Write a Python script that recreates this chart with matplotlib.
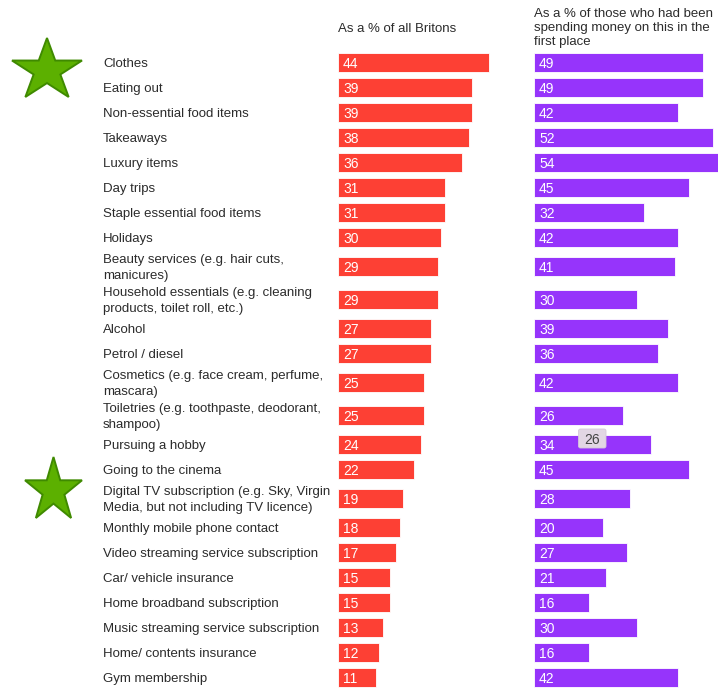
import numpy as np
import matplotlib.pyplot as plt
from matplotlib.patches import FancyBboxPatch, Polygon

plt.rcParams['font.family'] = ['Liberation Sans', 'DejaVu Sans']

categories = [
    "Clothes",
    "Eating out",
    "Non-essential food items",
    "Takeaways",
    "Luxury items",
    "Day trips",
    "Staple essential food items",
    "Holidays",
    "Beauty services (e.g. hair cuts,\nmanicures)",
    "Household essentials (e.g. cleaning\nproducts, toilet roll, etc.)",
    "Alcohol",
    "Petrol / diesel",
    "Cosmetics (e.g. face cream, perfume,\nmascara)",
    "Toiletries (e.g. toothpaste, deodorant,\nshampoo)",
    "Pursuing a hobby",
    "Going to the cinema",
    "Digital TV subscription (e.g. Sky, Virgin\nMedia, but not including TV licence)",
    "Monthly mobile phone contact",
    "Video streaming service subscription",
    "Car/ vehicle insurance",
    "Home broadband subscription",
    "Music streaming service subscription",
    "Home/ contents insurance",
    "Gym membership",
]
all_britons = [44, 39, 39, 38, 36, 31, 31, 30, 29, 29, 27, 27, 25, 25, 24, 22,
               19, 18, 17, 15, 15, 13, 12, 11]
spenders = [49, 49, 42, 52, 54, 45, 32, 42, 41, 30, 39, 36, 42, 26, 34, 45,
            28, 20, 27, 21, 16, 30, 16, 42]

header_left = "As a % of all Britons"
header_right = "As a % of those who had been\nspending money on this in the\nfirst place"
tooltip_value = "26"

RED = "#FD4034"
PURPLE = "#9634FB"
TEXT = "#2b2b2b"

W, H = 718, 688
fig = plt.figure(figsize=(W / 100, H / 100), dpi=100)

# row centres in pixel units: two-line labels get a taller row
centres = []
y = 62.5
prev_h = None
for lab in categories:
    h = 33 if "\n" in lab else 25
    if prev_h is not None:
        y += (prev_h + h) / 2
    centres.append(y)
    prev_h = h

px_per_unit = 3.44


def bar_axes(left_px, right_px):
    ax = fig.add_axes([left_px / W, 0, (right_px - left_px) / W, 1])
    ax.set_xlim(0, (right_px - left_px) / px_per_unit)
    ax.set_ylim(H, 0)
    ax.axis("off")
    return ax


ax_red = bar_axes(338, 530)
ax_pur = bar_axes(534, 718)

for ax, vals, col in [(ax_red, all_britons, RED), (ax_pur, spenders, PURPLE)]:
    ax.barh(centres, vals, height=19, color=col, edgecolor="white", linewidth=0.6)
    for yc, v in zip(centres, vals):
        ax.annotate(str(v), (0, yc), xytext=(5, -1.5), textcoords="offset pixels",
                    va="center", ha="left", color="white", fontsize=10)

# overlay for labels, headers, stars and the hover box
ax = fig.add_axes([0, 0, 1, 1], zorder=5)
ax.set_xlim(0, W)
ax.set_ylim(H, 0)
ax.axis("off")
ax.patch.set_visible(False)

for lab, yc in zip(categories, centres):
    ax.text(103, yc + 1.5, lab, ha="left", va="center", fontsize=9.5,
            color=TEXT, linespacing=1.35)

ax.text(338, 28.5, header_left, ha="left", va="center", fontsize=9.5, color=TEXT)
ax.text(534, 28, header_right, ha="left", va="center", fontsize=9.5,
        color=TEXT, linespacing=1.25)


def star(cx, top, w, h):
    ang = np.deg2rad(90 + 36 * np.arange(10))
    r = np.where(np.arange(10) % 2 == 0, 1.0, 0.382)
    xs = r * np.cos(ang)
    ys = r * np.sin(ang)
    px = cx + xs * (w / 2 / 0.951)
    py = top + (1 - ys) * (h / 1.809)
    return Polygon(np.column_stack([px, py]), closed=True, fc="#5CB000",
                   ec="#3F8A00", lw=1.4, joinstyle="miter")


ax.add_patch(star(47, 38, 70, 59))
ax.add_patch(star(53.5, 457, 57, 61))

# tooltip left over on the hobby bar
tip_y = centres[categories.index("Pursuing a hobby")] - 6
box = FancyBboxPatch((578.5, tip_y - 9.5), 27.5, 19,
                     boxstyle="round,pad=0,rounding_size=2",
                     fc="#E2D6E4", ec="#D6C8D9", lw=0.6)
ax.add_patch(box)
ax.text(592.5, tip_y + 1, tooltip_value, ha="center", va="center", fontsize=10,
        color="#444444")

plt.savefig("out.png", dpi=100)
